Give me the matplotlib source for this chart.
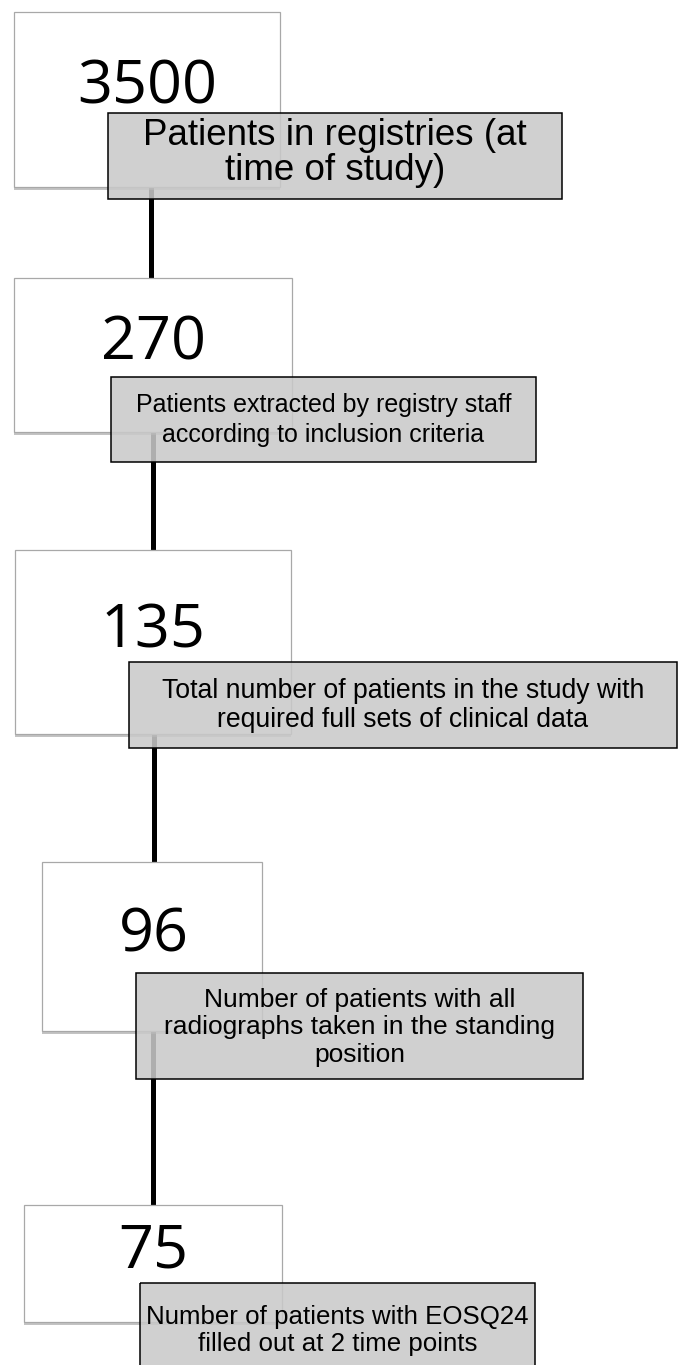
"""
plot.py

Patient selection flowchart: counts in white boxes, captions in grey boxes,
joined by a black vertical connector.
"""

import matplotlib
matplotlib.use("Agg")

import matplotlib.pyplot as plt
from matplotlib.patches import Rectangle

# --- data -------------------------------------------------------------------
counts = [3500, 270, 135, 96, 75]
captions = [
    "Patients in registries (at\ntime of study)",
    "Patients extracted by registry staff\naccording to inclusion criteria",
    "Total number of patients in the study with\nrequired full sets of clinical data",
    "Number of patients with all\nradiographs taken in the standing\nposition",
    "Number of patients with EOSQ24\nfilled out at 2 time points",
]

# --- layout (pixel coordinates, y downwards) -------------------------------
W, H = 678, 1365
count_boxes = [(14, 12, 280, 187), (14, 278, 292, 432), (15, 550, 291, 734),
               (42, 862, 262, 1031), (24, 1205, 282, 1322)]
caption_boxes = [(108, 113, 562, 199), (111, 377, 536, 462), (129, 662, 677, 748),
                 (136, 973, 583, 1079), (140, 1283, 535, 1380)]
count_pos = [(147.5, 103), (154, 360), (153, 647), (153.5, 952), (153.5, 1268)]
# baseline of the last caption line (matplotlib anchors multi-line text there)
caption_base = [180, 442, 727, 1062, 1351]
caption_size = [26.5, 18, 19.2, 19, 18.6]
caption_ls = [0.99, 1.32, 1.17, 1.19, 1.15]
connectors = [(151, 187, 278), (153, 432, 550), (153.5, 734, 862), (153, 1031, 1205)]

GREY_FILL = "#c9c9c9"
BOX_EDGE = "#a8a8a8"

fig = plt.figure(figsize=(W / 100, H / 100), dpi=100)
ax = fig.add_axes([0, 0, 1, 1])
ax.set_xlim(0, W)
ax.set_ylim(H, 0)
ax.axis("off")

for x, y0, y1 in connectors:
    ax.plot([x, x], [y0, y1], color="black", lw=3.6, solid_capstyle="butt", zorder=1)

for x0, y0, x1, y1 in count_boxes:
    ax.add_patch(Rectangle((x0, y0 + 3), x1 - x0, y1 - y0, facecolor="#7a7a7a",
                           edgecolor="none", alpha=0.45, zorder=2))
    ax.add_patch(Rectangle((x0, y0), x1 - x0, y1 - y0, facecolor="white",
                           edgecolor=BOX_EDGE, lw=0.9, zorder=3))

for n, (x, y) in zip(counts, count_pos):
    ax.text(x, y, str(n), ha="center", va="baseline", fontsize=44,
            family="Open Sans", color="black", zorder=4)

for text, (x0, y0, x1, y1), base, size, ls in zip(captions, caption_boxes, caption_base,
                                                  caption_size, caption_ls):
    ax.add_patch(Rectangle((x0, y0), x1 - x0, y1 - y0, facecolor=GREY_FILL, alpha=0.87,
                           edgecolor="none", zorder=5))
    ax.add_patch(Rectangle((x0, y0), x1 - x0, y1 - y0, facecolor="none",
                           edgecolor="black", lw=1.1, zorder=6))
    ax.text((x0 + x1) / 2, base, text, ha="center", va="baseline", multialignment="center",
            fontsize=size, family="Liberation Sans", linespacing=ls, color="black", zorder=7)

fig.savefig("out.png", dpi=100)
plt.close(fig)
